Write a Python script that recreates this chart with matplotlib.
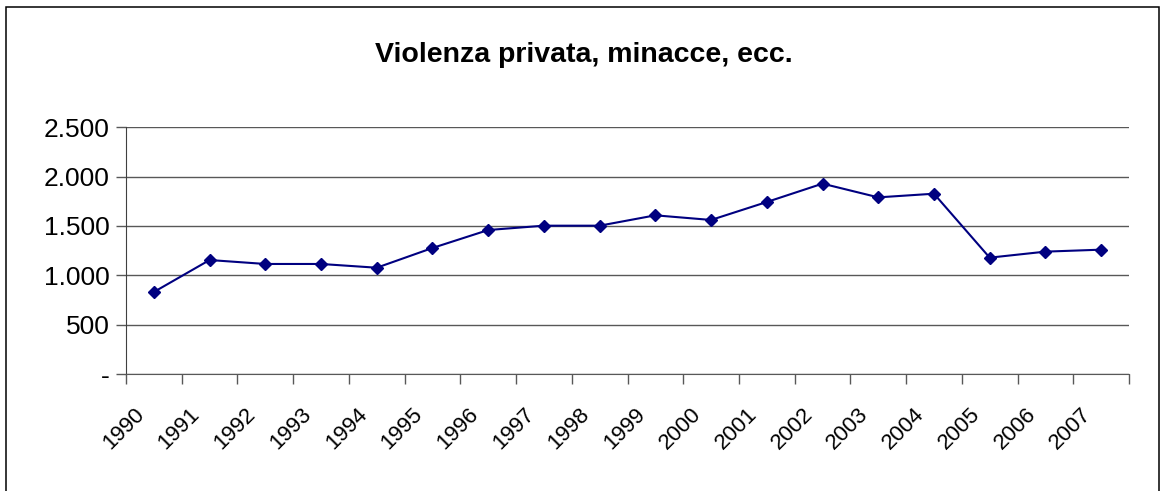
import numpy as np
import matplotlib
matplotlib.use("Agg")
import matplotlib.pyplot as plt
import matplotlib.transforms as mtransforms
from matplotlib.patches import Rectangle
from matplotlib.ticker import FuncFormatter

years = [str(y) for y in range(1990, 2008)]
values = [831, 1155, 1115, 1115, 1077, 1277, 1459, 1503, 1503,
          1608, 1561, 1743, 1929, 1790, 1827, 1179, 1240, 1260]
y_ticks = [0, 500, 1000, 1500, 2000, 2500]
title = "Violenza privata, minacce, ecc."

plt.rcParams["font.family"] = ["Liberation Sans", "DejaVu Sans"]

fig = plt.figure(figsize=(11.6, 4.91), dpi=100)
ax = fig.add_axes([126 / 1160, 1 - 374 / 491, (1129 - 126) / 1160, (374 - 127.3) / 491])

x = np.arange(len(years))
ax.plot(x, values, color="#000080", lw=1.5, marker="D", ms=6.4,
        markerfacecolor="#000080", markeredgecolor="#000080", zorder=3)

ax.set_xlim(-0.5, len(years) - 0.5)
ax.set_ylim(0, 2500)
ax.set_yticks(y_ticks)
ax.yaxis.set_major_formatter(FuncFormatter(
    lambda v, _: "-" if v == 0 else f"{int(v):,}".replace(",", ".")))
ax.grid(axis="y", color="#585858", lw=1)
ax.set_axisbelow(True)

# year labels sit in the middle of each category, tick marks on the boundaries
ax.set_xticks(x)
ax.set_xticklabels(years, rotation=45, ha="right", va="baseline",
                   rotation_mode="anchor", fontsize=16)
ax.set_xticks(np.arange(-0.5, len(years)), minor=True)
ax.tick_params(axis="x", which="major", length=0, pad=29.5)
ax.tick_params(axis="x", which="minor", length=7, width=1, color="#585858", direction="out")
ax.tick_params(axis="y", length=7, width=1, color="#585858", labelsize=19, pad=5)

shift = mtransforms.ScaledTranslation(-6.5 / 72, 0, fig.dpi_scale_trans)
for lab in ax.get_xticklabels():
    lab.set_transform(lab.get_transform() + shift)

for s in ["top", "right"]:
    ax.spines[s].set_visible(False)
ax.spines["left"].set_color("#404040")
ax.spines["bottom"].set_color("#585858")

fig.text(583.5 / 1160, 1 - 62.3 / 491, title, ha="center", va="baseline",
         fontsize=20.5, fontweight="bold")

fig.patches.append(Rectangle((5.5 / 1160, -0.05), 1153 / 1160, 1.05 - 7 / 491,
                             transform=fig.transFigure, fill=False,
                             edgecolor="black", lw=1.1))

fig.savefig("out.png", dpi=100)
